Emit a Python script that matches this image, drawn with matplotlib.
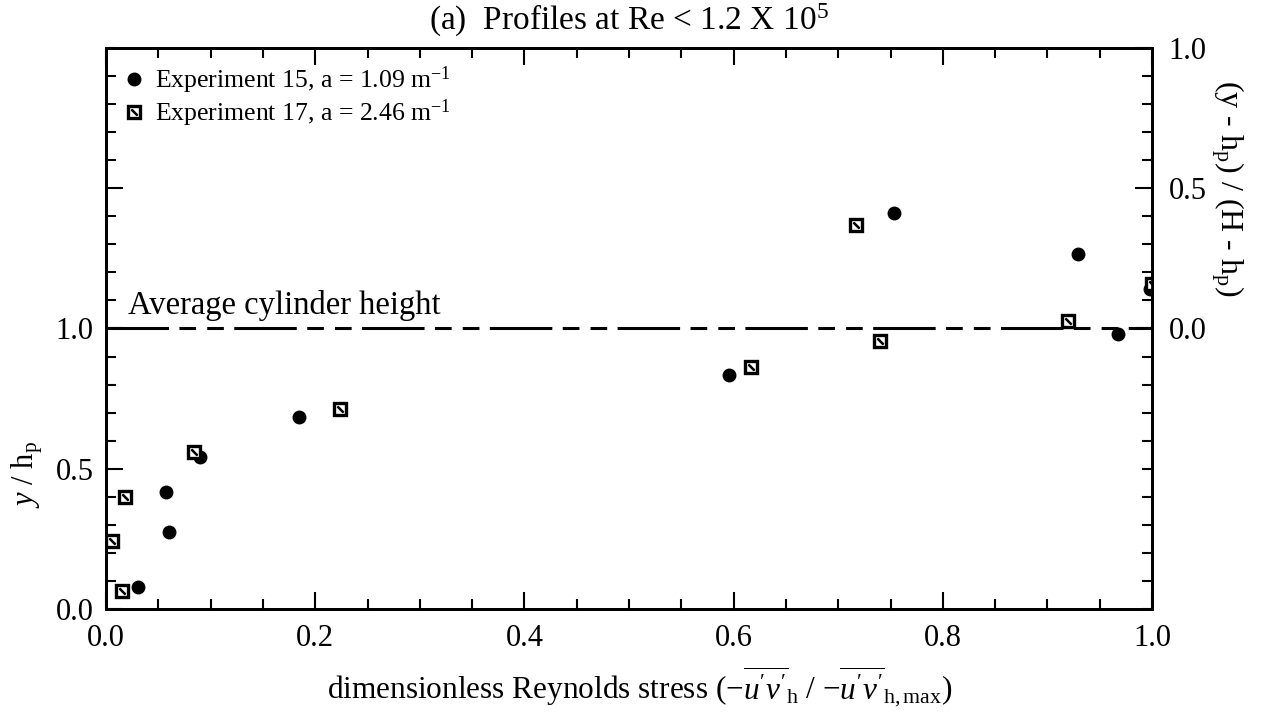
import matplotlib
matplotlib.use("Agg")
import matplotlib.pyplot as plt
from matplotlib.ticker import MultipleLocator, FixedLocator, FixedFormatter

plt.rcParams["font.family"] = ["Liberation Serif", "DejaVu Serif"]
plt.rcParams["mathtext.fontset"] = "custom"
plt.rcParams["mathtext.rm"] = "Liberation Serif"
plt.rcParams["mathtext.it"] = "Liberation Serif:italic"
plt.rcParams["lines.scale_dashes"] = False

# Experiment 15 (filled circles)
exp15_stress = [0.031, 0.060, 0.057, 0.090, 0.184, 0.596, 0.753, 0.929, 0.967, 0.998]
exp15_height = [0.078, 0.274, 0.416, 0.541, 0.683, 0.833, 1.413, 1.267, 0.982, 1.142]

# Experiment 17 (slashed squares)
exp17_stress = [0.015, 0.006, 0.018, 0.084, 0.224, 0.617, 0.740, 0.717, 0.920, 1.000]
exp17_height = [0.064, 0.242, 0.399, 0.559, 0.712, 0.861, 0.954, 1.370, 1.025, 1.160]

cyl_height = 1.0
H_over_hp = 2.0

fig = plt.figure(figsize=(12.61, 7.15), dpi=100)
ax = fig.add_axes([0.0841, 0.1483, 0.8295, 0.7846])

ax.plot([0, 1], [cyl_height, cyl_height], color="black", lw=2.2,
        dashes=(45, 7.5, 12, 8, 12, 7.5), zorder=1)
ax.text(0.021, 1.025, "Average cylinder height", fontsize=23.5, ha="left", va="bottom")

c, = ax.plot(exp15_stress, exp15_height, "o", color="black", ms=9, ls="none", zorder=3)
s1, = ax.plot(exp17_stress, exp17_height, "s", mfc="white", mec="black", mew=2.4,
              ms=8, ls="none", zorder=3)
s2, = ax.plot(exp17_stress, exp17_height, marker=(2, 2, 45), color="black", mew=1.6,
              ms=6, ls="none", zorder=4)

leg = ax.legend([c, (s1, s2)],
                ["Experiment 15, a = 1.09 m$^{\\mathregular{-1}}$",
                 "Experiment 17, a = 2.46 m$^{\\mathregular{-1}}$"],
                loc="upper left", frameon=False, fontsize=18.5, handletextpad=0.35,
                borderaxespad=0.25, labelspacing=0.05, handlelength=0.9,
                bbox_to_anchor=(0.0, 1.0))

ax.set_xlim(0, 1.0)
ax.set_ylim(0, H_over_hp)
ax.xaxis.set_major_locator(MultipleLocator(0.2))
ax.xaxis.set_minor_locator(MultipleLocator(0.05))
ax.yaxis.set_major_locator(FixedLocator([0, 0.5, 1.0, 1.5]))
ax.yaxis.set_major_formatter(FixedFormatter(["0.0", "0.5", "1.0", ""]))
ax.yaxis.set_minor_locator(MultipleLocator(0.1))
ax.xaxis.set_major_formatter(plt.FuncFormatter(lambda v, p: f"{v:.1f}"))

ax.tick_params(axis="both", which="major", direction="in", length=12, width=1.5,
               labelsize=22, top=True, right=False)
ax.tick_params(axis="both", which="minor", direction="in", length=7, width=1.5,
               top=True, right=False)
ax.tick_params(axis="x", which="major", pad=11)
ax.tick_params(axis="y", which="major", pad=9)
for sp in ax.spines.values():
    sp.set_linewidth(2)

ax2 = ax.twinx()
ax2.set_ylim(-1.0, H_over_hp - 1.0)
ax2.yaxis.set_major_locator(FixedLocator([0, 0.5, 1.0]))
ax2.yaxis.set_major_formatter(FixedFormatter(["0.0", "0.5", "1.0"]))
ax2.yaxis.set_minor_locator(MultipleLocator(0.1))
ax2.tick_params(axis="y", which="major", direction="in", length=12, width=1.5,
                labelsize=22, pad=12)
ax2.tick_params(axis="y", which="minor", direction="in", length=7, width=1.5)
for sp in ax2.spines.values():
    sp.set_linewidth(2)

ax.set_title("(a)  Profiles at Re < 1.2 X 10$^{\\mathregular{5}}$", fontsize=24, pad=13)
ax.set_xlabel("dimensionless Reynolds stress ($-\\overline{u'v'}_{\\rm h}$ / "
              "$-\\overline{u'v'}_{\\rm h,max}$)", fontsize=22.5, labelpad=2)
ax.xaxis.set_label_coords(0.51, -0.1)
ax.set_ylabel("$y$ / h$_{\\rm p}$", fontsize=22)
ax.yaxis.set_label_coords(-0.058, 0.24)
ax2.set_ylabel("(y - h$_{\\rm p}$) / (H - h$_{\\rm p}$)", fontsize=23, rotation=270,
               va="center")
ax2.yaxis.set_label_coords(1.072, 0.75)

fig.savefig("out.png", dpi=100)
